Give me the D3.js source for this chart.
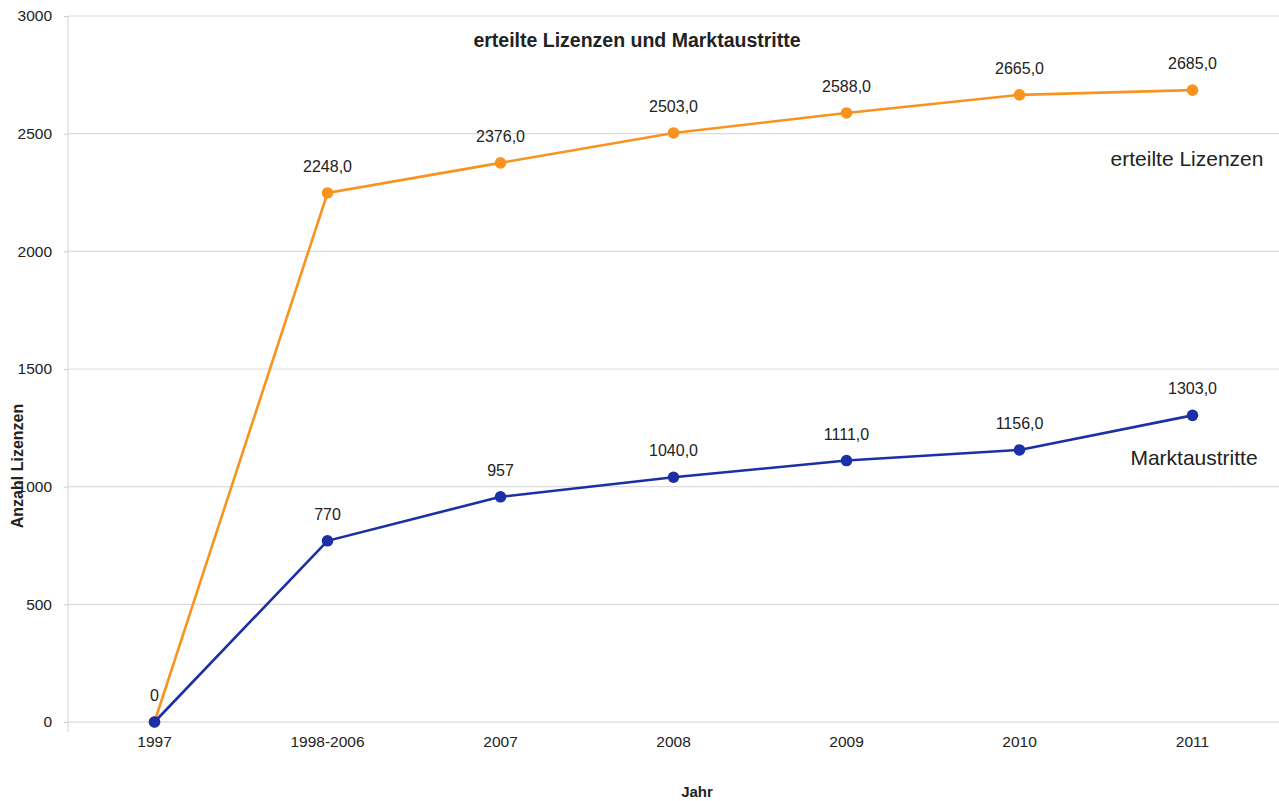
<!DOCTYPE html>
<html>
<head>
<meta charset="utf-8">
<script src="https://cdn.jsdelivr.net/npm/d3@7"></script>
<style>
  html, body { margin: 0; padding: 0; background: #fff; }
  svg { display: block; font-family: "Liberation Sans", Arial, sans-serif; }
</style>
</head>
<body>
<svg id="chart" width="1279" height="801"></svg>
<script>
const categories = ["1997", "1998-2006", "2007", "2008", "2009", "2010", "2011"];
const lizenzen = [0, 2248, 2376, 2503, 2588, 2665, 2685];
const austritte = [0, 770, 957, 1040, 1111, 1156, 1303];
const lizenzenLabels = ["", "2248,0", "2376,0", "2503,0", "2588,0", "2665,0", "2685,0"];
const austritteLabels = ["0", "770", "957", "1040,0", "1111,0", "1156,0", "1303,0"];
const yTicks = [0, 500, 1000, 1500, 2000, 2500, 3000];

const svg = d3.select("#chart");
const margin = { left: 68, right: 0, top: 16, bottom: 79 };
const W = 1279, H = 801;
const textColor = "#222";

const x = d3.scaleBand().domain(categories).range([margin.left, W - margin.right]).padding(0);
const y = d3.scaleLinear().domain([0, 3000]).range([H - margin.bottom, margin.top]);
const cx = d => x(d) + x.bandwidth() / 2;

// gridlines
svg.append("g")
  .selectAll("line")
  .data(yTicks)
  .join("line")
  .attr("x1", margin.left).attr("x2", W)
  .attr("y1", d => y(d)).attr("y2", d => y(d))
  .attr("stroke", d => d === 0 ? "#cfcfcf" : "#dcdcdc")
  .attr("stroke-width", 1.2);

// y axis line
svg.append("line")
  .attr("x1", margin.left).attr("x2", margin.left)
  .attr("y1", y(3000)).attr("y2", y(0) + 10)
  .attr("stroke", "#e0e0e0").attr("stroke-width", 1.5);

// y axis
const yAxis = d3.axisLeft(y).tickValues(yTicks).tickSize(4).tickPadding(12).tickFormat(d3.format("d"));
const gy = svg.append("g").attr("transform", `translate(${margin.left},0)`).call(yAxis);
gy.select(".domain").remove();
gy.selectAll(".tick line").attr("stroke", "#ccc");
gy.selectAll(".tick text").attr("fill", textColor).style("font-size", "15.5px")
  .style("font-family", "'Liberation Sans', Arial, sans-serif");

// x axis
const xAxis = d3.axisBottom(x).tickSize(0).tickPadding(14);
const gx = svg.append("g").attr("transform", `translate(0,${y(0)})`).call(xAxis);
gx.select(".domain").remove();
gx.selectAll(".tick text").attr("fill", textColor).style("font-size", "15.5px")
  .style("font-family", "'Liberation Sans', Arial, sans-serif");

const orange = "#f7931e";
const blue = "#1b2fa6";

function drawSeries(values, color) {
  const data = categories.map((c, i) => ({ c, v: values[i] }));
  const line = d3.line().x(d => cx(d.c)).y(d => y(d.v));
  svg.append("path").datum(data)
    .attr("d", line).attr("fill", "none")
    .attr("stroke", color).attr("stroke-width", 2.6);
  svg.append("g").selectAll("circle").data(data).join("circle")
    .attr("cx", d => cx(d.c)).attr("cy", d => y(d.v)).attr("r", 5.8)
    .attr("fill", color);
}
drawSeries(lizenzen, orange);
drawSeries(austritte, blue);

function drawLabels(values, labels) {
  svg.append("g").selectAll("text").data(categories).join("text")
    .attr("x", d => cx(d))
    .attr("y", (d, i) => y(values[i]) - 21)
    .attr("text-anchor", "middle")
    .attr("fill", textColor)
    .style("font-size", "16px")
    .text((d, i) => labels[i]);
}
drawLabels(lizenzen, lizenzenLabels);
drawLabels(austritte, austritteLabels);

// title
svg.append("text")
  .attr("x", 637).attr("y", 47)
  .attr("text-anchor", "middle")
  .attr("fill", textColor)
  .style("font-size", "19.5px").style("font-weight", "bold")
  .text("erteilte Lizenzen und Marktaustritte");

// series labels
svg.append("text")
  .attr("x", 1187).attr("y", 166)
  .attr("text-anchor", "middle").attr("fill", textColor)
  .style("font-size", "21px")
  .text("erteilte Lizenzen");
svg.append("text")
  .attr("x", 1194).attr("y", 465)
  .attr("text-anchor", "middle").attr("fill", textColor)
  .style("font-size", "21px")
  .text("Marktaustritte");

// axis titles
svg.append("text")
  .attr("transform", "translate(23,466) rotate(-90)")
  .attr("text-anchor", "middle").attr("fill", textColor)
  .style("font-size", "16px").style("font-weight", "bold")
  .text("Anzahl Lizenzen");
svg.append("text")
  .attr("x", 697).attr("y", 797)
  .attr("text-anchor", "middle").attr("fill", textColor)
  .style("font-size", "15px").style("font-weight", "bold")
  .text("Jahr");
</script>
</body>
</html>
